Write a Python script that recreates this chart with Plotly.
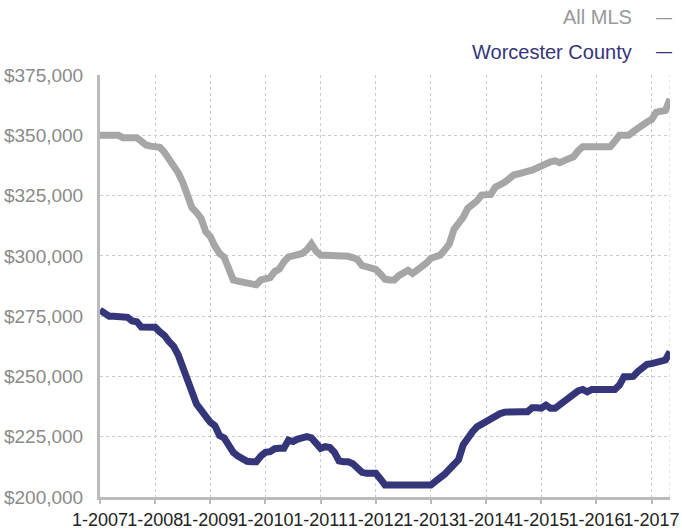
import plotly.graph_objects as go

# monthly median sale price, Jan 2007 .. May 2017
months = list(range(125))

all_mls = [
    350000, 350000, 350000, 350000, 350000, 349000, 349000, 349000, 349000, 347500,
    346000, 345500, 345000, 345000, 343000, 340000, 338000, 334500, 330500, 324500,
    320000, 318000, 315500, 310000, 308000, 304000, 301000, 299500, 294000, 290000,
    289500, 289200, 288800, 288500, 288000, 290000, 290200, 291000, 293500, 294500,
    297500, 299600, 300000, 300300, 301000, 302500, 305000, 302000, 300300, 300300,
    300300, 300300, 300300, 300300, 299800, 299300, 298500, 296000, 295300, 295000,
    294400, 292500, 290300, 290000, 290000, 291800, 293000, 294000, 292700, 294200,
    295000, 297000, 299000, 300000, 300300, 302500, 305000, 311000, 313500, 316000,
    319700, 321000, 322800, 325200, 325200, 325500, 328500, 329300, 330500, 332000,
    333500, 334000, 334200, 335000, 335500, 336500, 337300, 338200, 339000, 339400,
    338600, 339500, 340500, 341100, 343500, 345200, 345200, 345200, 345200, 345200,
    345200, 345200, 347500, 350000, 350000, 350000, 351500, 353000, 354500, 355500,
    356500, 359500, 360000, 360300, 365000,
]

worcester = [
    277500, 276000, 275000, 275000, 275000, 275000, 274500, 273000, 272700, 270500,
    270400, 270400, 270400, 268500, 267000, 264500, 262500, 259000, 254000, 248500,
    243000, 238500, 236000, 233000, 231000, 229500, 225500, 224500, 221500, 218500,
    217000, 215500, 214800, 214600, 214600, 217000, 218500, 218800, 220000, 220200,
    220200, 223600, 223000, 224000, 224500, 225000, 224500, 222000, 220200, 220900,
    220500, 218500, 215000, 214600, 214600, 213800, 212000, 210200, 209800, 209800,
    209800, 207500, 205000, 205000, 205000, 205000, 205000, 205000, 205000, 205000,
    205000, 205000, 205000, 206500, 207800, 209500, 211500, 213500, 215500, 221600,
    225000, 227000, 229100, 230200, 231200, 232500, 234000, 234500, 235200, 235400,
    235400, 235400, 235400, 235400, 237000, 237000, 236800, 238100, 236800, 236800,
    238200, 239900, 241500, 243000, 244000, 244600, 243600, 244600, 244600, 244600,
    244600, 244600, 244600, 246400, 249900, 249900, 250000, 252000, 254000, 255000,
    255300, 255700, 256100, 256800, 260200,
]

year_ticks = [0, 12, 24, 36, 48, 60, 72, 84, 96, 108, 120]
year_labels = ["1-2007", "1-2008", "1-2009", "1-2010", "1-2011", "1-2012",
               "1-2013", "1-2014", "1-2015", "1-2016", "1-2017"]
price_ticks = [200000, 225000, 250000, 275000, 300000, 325000, 350000, 375000]
price_labels = [f"${v:,}" for v in price_ticks]

GRAY = "#a6a6a6"
NAVY = "#35357a"
FONT = "Liberation Sans"

fig = go.Figure()
fig.add_trace(go.Scatter(
    x=months, y=all_mls, mode="lines", name="All MLS",
    line=dict(color=GRAY, width=7),
))
fig.add_trace(go.Scatter(
    x=months, y=worcester, mode="lines", name="Worcester County",
    line=dict(color=NAVY, width=7),
))

# dotted gridline at the right edge of the plot
fig.add_shape(
    type="line", xref="x", yref="paper",
    x0=months[-1], x1=months[-1], y0=0, y1=1,
    line=dict(color="#cccccc", width=1, dash="dot"),
    layer="below",
)

# legend drawn as text with the dash to the right
for label, color, ypos in [("All MLS", "#999999", 1.137), ("Worcester County", NAVY, 1.055)]:
    fig.add_annotation(
        xref="paper", yref="paper", x=0.937, y=ypos,
        text=label, showarrow=False, xanchor="right", yanchor="middle",
        font=dict(family=FONT, size=20, color=color),
    )
    fig.add_annotation(
        xref="paper", yref="paper", x=0.99, y=ypos,
        text="—", showarrow=False, xanchor="center", yanchor="middle",
        font=dict(family=FONT, size=16, color=color),
    )

fig.update_xaxes(
    range=[months[0], months[-1]],
    tickmode="array", tickvals=year_ticks, ticktext=year_labels, tickangle=0,
    tickfont=dict(family=FONT, size=18, color="#222222"),
    ticks="outside", ticklen=4, tickwidth=2, tickcolor="#bbbbbb",
    showgrid=True, gridcolor="#cccccc", gridwidth=1, griddash="dot",
    showline=True, linecolor="#bbbbbb", linewidth=3,
    zeroline=False, automargin=False,
)
fig.update_yaxes(
    range=[price_ticks[0], price_ticks[-1]],
    tickmode="array", tickvals=price_ticks, ticktext=price_labels,
    tickfont=dict(family=FONT, size=19, color="#8a8a8a"),
    ticklabelstandoff=10,
    showgrid=True, gridcolor="#cccccc", gridwidth=1, griddash="dot",
    showline=True, linecolor="#bbbbbb", linewidth=3,
    zeroline=False, automargin=False,
)
fig.update_layout(
    width=682, height=529,
    margin=dict(l=100, r=12, t=75, b=32),
    showlegend=False,
    plot_bgcolor="white",
    paper_bgcolor="white",
    font=dict(family=FONT),
)

fig.write_html(
    "out.html",
    config={"displayModeBar": False},
    post_script="document.body.style.margin='0';",
)
